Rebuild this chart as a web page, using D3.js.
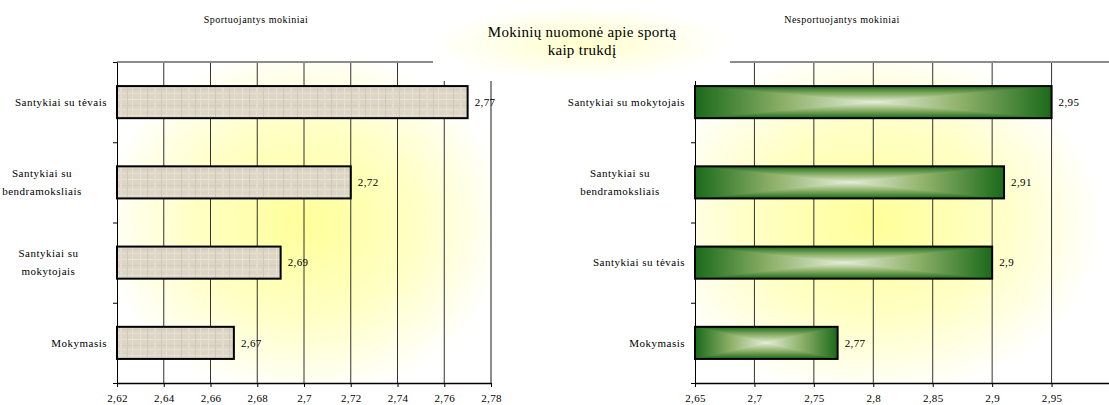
<!DOCTYPE html>
<html>
<head>
<meta charset="utf-8">
<script src="https://cdn.jsdelivr.net/npm/d3@7"></script>
<style>
  body { margin: 0; background: #fff; }
</style>
</head>
<body>
<script>
const title = ["Mokinių nuomonė apie sportą", "kaip trukdį"]

const leftTitle = "Sportuojantys mokiniai"
const leftCategories = ["Santykiai su tėvais", "Santykiai su\nbendramoksliais", "Santykiai su\nmokytojais", "Mokymasis"]
const leftValues = [2.77, 2.72, 2.69, 2.67]
const leftDomain = [2.62, 2.78]
const leftTicks = [2.62, 2.64, 2.66, 2.68, 2.7, 2.72, 2.74, 2.76, 2.78]

const rightTitle = "Nesportuojantys mokiniai"
const rightCategories = ["Santykiai su mokytojais", "Santykiai su\nbendramoksliais", "Santykiai su tėvais", "Mokymasis"]
const rightValues = [2.95, 2.91, 2.9, 2.77]
const rightDomain = [2.65, 3.0]
const rightTicks = [2.65, 2.7, 2.75, 2.8, 2.85, 2.9, 2.95]

const w = 1109
const h = 405
const plotTop = 62
const plotBottom = 383
const serif = '"Liberation Serif", "Times New Roman", "DejaVu Serif", serif'
const fmt = d => String(d).replace('.', ',')

const svg = d3.select('body')
    .append('svg')
    .attr('width', w)
    .attr('height', h)
    .attr('font-family', serif)
    .style('font-family', serif)

const defs = svg.append('defs')

const glowStops = [[0, '#ffff99'], [0.55, '#ffffc6'], [1, '#ffffff']]
const glowL = defs.append('radialGradient').attr('id', 'glowL').attr('r', 0.55)
const glowR = defs.append('radialGradient').attr('id', 'glowR').attr('r', 0.55).attr('cx', 0.43)
glowStops.forEach(s => {
    glowL.append('stop').attr('offset', s[0]).attr('stop-color', s[1])
    glowR.append('stop').attr('offset', s[0]).attr('stop-color', s[1])
})

const titleGlow = defs.append('radialGradient').attr('id', 'titleGlow')
titleGlow.append('stop').attr('offset', 0).attr('stop-color', '#ffffcc')
titleGlow.append('stop').attr('offset', 1).attr('stop-color', '#ffffff')

// linen-like texture for the left bars
const linen = defs.append('pattern')
    .attr('id', 'linen')
    .attr('patternUnits', 'userSpaceOnUse')
    .attr('width', 34)
    .attr('height', 16)
linen.append('rect').attr('width', 34).attr('height', 16).attr('fill', '#ddd6c7')
const threads = [[0, 3, 34, 1, '#e8e2d6'], [0, 9, 34, 1, '#d3cbba'], [0, 13, 34, 1, '#e6e0d3'],
                 [4, 0, 1, 16, '#e7e1d4'], [11, 0, 1, 16, '#d0c8b7'], [18, 0, 2, 16, '#e4ddcf'],
                 [25, 0, 1, 16, '#d2cab9'], [30, 0, 1, 16, '#e6e0d2']]
threads.forEach(t => linen.append('rect')
    .attr('x', t[0]).attr('y', t[1]).attr('width', t[2]).attr('height', t[3]).attr('fill', t[4]))

// "from center" green fill: horizontal base plus top/bottom triangles
const greenStops = [[0, '#1a6a1a'], [0.5, '#8db068'], [1, '#e4eed8']]
const gH = defs.append('linearGradient').attr('id', 'gH')
greenStops.forEach(s => gH.append('stop').attr('offset', s[0] / 2).attr('stop-color', s[1]))
greenStops.slice().reverse().forEach(s => gH.append('stop').attr('offset', 1 - s[0] / 2).attr('stop-color', s[1]))
const gTop = defs.append('linearGradient').attr('id', 'gTop').attr('x1', 0).attr('y1', 0).attr('x2', 0).attr('y2', 1)
const gBottom = defs.append('linearGradient').attr('id', 'gBottom').attr('x1', 0).attr('y1', 1).attr('x2', 0).attr('y2', 0)
greenStops.forEach(s => {
    gTop.append('stop').attr('offset', s[0]).attr('stop-color', s[1])
    gBottom.append('stop').attr('offset', s[0]).attr('stop-color', s[1])
})

function panel(cfg) {
    const g = svg.append('g')

    const x = d3.scaleLinear().domain(cfg.domain).range(cfg.xRange)
    const y = d3.scaleBand().domain(cfg.categories).range([plotTop, plotBottom])
        .paddingInner(0.6).paddingOuter(0.3)
    const yEdge = d3.scaleLinear().domain([0, cfg.categories.length]).range([plotTop, plotBottom])

    const x0 = x(cfg.domain[0])
    const x1 = Math.min(x(cfg.domain[1]), w)

    g.append('rect')
        .attr('x', x0).attr('y', plotTop)
        .attr('width', x(cfg.domain[1]) - x0).attr('height', plotBottom - plotTop)
        .attr('fill', `url(#${cfg.glow})`)

    g.selectAll('.grid')
        .data(cfg.ticks.slice(1).concat([cfg.domain[1]]))
        .enter()
        .append('line')
        .attr('x1', d => x(d)).attr('x2', d => x(d))
        .attr('y1', plotTop).attr('y2', plotBottom)
        .attr('stroke', d => d === cfg.domain[1] ? '#8c8c8c' : '#333')
        .attr('stroke-width', d => d === cfg.domain[1] ? 2 : 1)

    g.append('line')
        .attr('x1', x0).attr('x2', x1)
        .attr('y1', plotTop).attr('y2', plotTop)
        .attr('stroke', '#8c8c8c')
        .attr('stroke-width', 2)

    const data = cfg.categories.map((c, i) => ({ cat: c, value: cfg.values[i] }))

    const bars = g.selectAll('.bar')
        .data(data)
        .enter()
        .append('g')

    bars.append('rect')
        .attr('x', x0)
        .attr('y', d => y(d.cat))
        .attr('width', d => x(d.value) - x0)
        .attr('height', y.bandwidth())
        .attr('fill', cfg.green ? 'url(#gH)' : 'url(#linen)')

    if (cfg.green) {
        bars.each(function (d) {
            const l = x0, r = x(d.value), t = y(d.cat), b = t + y.bandwidth()
            const cx = (l + r) / 2, cy = (t + b) / 2
            const tri = [
                ['gTop', [[l, t], [r, t], [cx, cy]]],
                ['gBottom', [[l, b], [r, b], [cx, cy]]]
            ]
            tri.forEach(p => d3.select(this).append('polygon')
                .attr('points', p[1].map(q => q.join(',')).join(' '))
                .attr('fill', `url(#${p[0]})`))
        })
    }

    bars.append('rect')
        .attr('x', x0)
        .attr('y', d => y(d.cat))
        .attr('width', d => x(d.value) - x0)
        .attr('height', y.bandwidth())
        .attr('fill', 'none')
        .attr('stroke', '#000')
        .attr('stroke-width', 2)

    bars.append('text')
        .attr('x', d => x(d.value) + 7)
        .attr('y', d => y(d.cat) + y.bandwidth() / 2)
        .attr('dy', '0.35em')
        .style('font-size', '11px')
        .style('letter-spacing', '0.4px')
        .text(d => fmt(d.value))

    g.append('g')
        .attr('transform', `translate(${x0}, 0)`)
        .call(d3.axisLeft(yEdge).tickValues(d3.range(cfg.categories.length + 1))
            .tickFormat('').tickSize(4).tickSizeOuter(0))
        .call(a => a.selectAll('line, path').attr('stroke', '#000'))

    g.append('g')
        .attr('transform', `translate(0, ${plotBottom})`)
        .call(d3.axisBottom(x).tickValues(cfg.ticks).tickFormat(fmt)
            .tickSize(4).tickSizeOuter(0).tickPadding(7))
        .attr('font-family', serif)
        .call(a => a.select('.domain').attr('stroke', '#000').attr('stroke-width', 1.5))
        .call(a => a.selectAll('.tick line').attr('stroke', '#000'))
        .call(a => a.selectAll('text')
            .attr('fill', '#000')
            .style('font-size', '11px')
            .style('letter-spacing', '0.3px'))

    // category labels: block right aligned, lines centred within it
    data.forEach(d => {
        const lines = d.cat.split('\n')
        const cy = y(d.cat) + y.bandwidth() / 2
        const t = g.append('text')
            .attr('text-anchor', 'middle')
            .style('font-size', '11px')
            .style('letter-spacing', '0.5px')
        lines.forEach((ln, i) => t.append('tspan')
            .attr('y', cy + (i - (lines.length - 1) / 2) * 18)
            .attr('dy', '0.35em')
            .text(ln))
        const bw = t.node().getBBox().width
        t.selectAll('tspan').attr('x', x0 - 10 - bw / 2)
    })

    g.append('text')
        .attr('x', cfg.titleX)
        .attr('y', 23)
        .attr('text-anchor', 'middle')
        .style('font-size', '10px')
        .style('letter-spacing', '0.5px')
        .text(cfg.title)
}

panel({
    title: leftTitle, titleX: 256,
    categories: leftCategories, values: leftValues,
    domain: leftDomain, ticks: leftTicks,
    xRange: [117, 491], green: false, glow: 'glowL'
})

panel({
    title: rightTitle, titleX: 842,
    categories: rightCategories, values: rightValues,
    domain: rightDomain, ticks: rightTicks,
    xRange: [695, 1111], green: true, glow: 'glowR'
})

svg.append('rect')
    .attr('x', 433).attr('y', 6)
    .attr('width', 297).attr('height', 75)
    .attr('fill', 'url(#titleGlow)')

svg.append('text')
    .attr('text-anchor', 'middle')
    .style('font-size', '15px')
    .style('letter-spacing', '0.3px')
    .selectAll('tspan')
    .data(title)
    .enter()
    .append('tspan')
    .attr('x', 582)
    .attr('y', (d, i) => 37 + i * 18)
    .text(d => d)
</script>
</body>
</html>
